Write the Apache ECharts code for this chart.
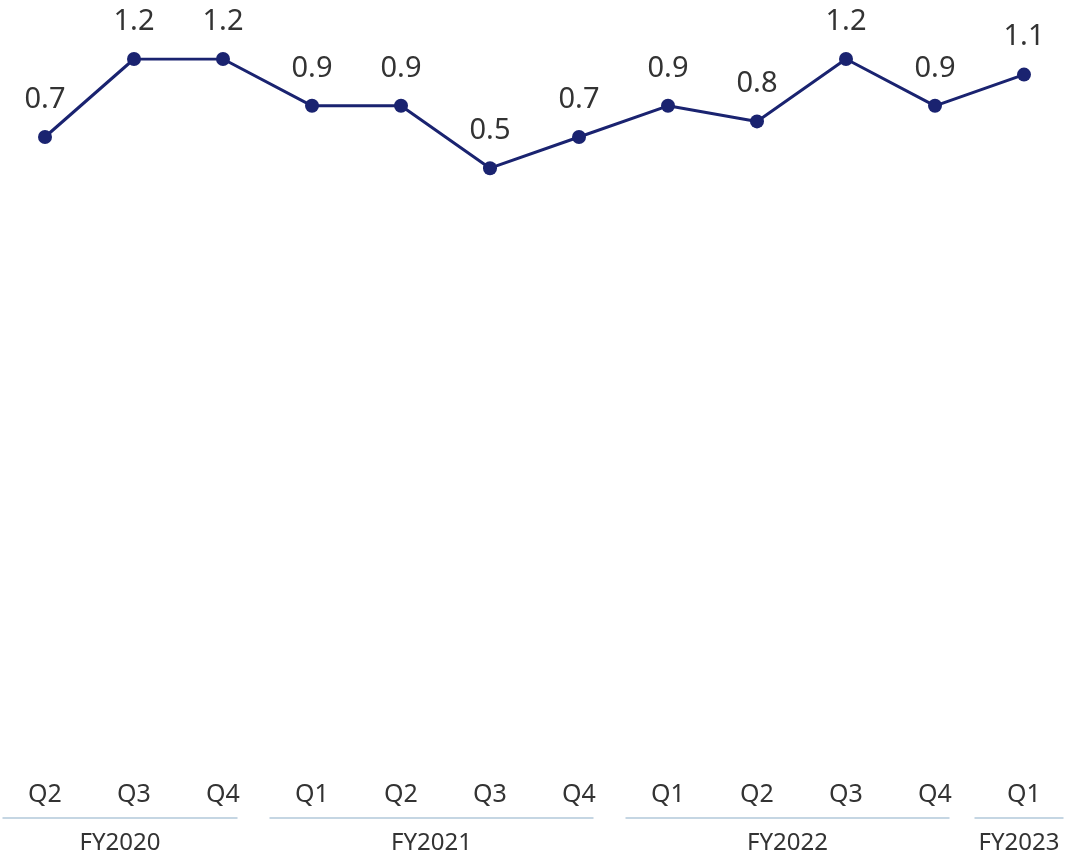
<!DOCTYPE html>
<html lang="en">
<head>
    <meta charset="UTF-8">
    <title>Quarterly chart</title>
    <style>
        body { margin: 0; padding: 0; background: #fff; }
        #chart { width: 1089px; height: 858px; }
    </style>
</head>
<body>
    <div id="chart"></div>
    <script src="https://cdn.jsdelivr.net/npm/echarts@6/dist/echarts.min.js"></script>
    <script>
        var quarters = ['Q2', 'Q3', 'Q4', 'Q1', 'Q2', 'Q3', 'Q4', 'Q1', 'Q2', 'Q3', 'Q4', 'Q1'];
        var values = [0.7, 1.2, 1.2, 0.9, 0.9, 0.5, 0.7, 0.9, 0.8, 1.2, 0.9, 1.1];
        var yearNames = ['FY2020', 'FY2021', 'FY2022', 'FY2023'];
        var yearStart = [0, 3, 7, 11];
        var yearEnd = [2, 6, 10, 11];

        var lineColor = '#1a2370';
        var font = '"Noto Sans", "Open Sans", sans-serif';

        var myChart = echarts.init(document.getElementById('chart'));

        var option = {
            animation: false,
            grid: { left: 0.5, right: 20.5, top: 59, bottom: 97, containLabel: false },
            xAxis: {
                type: 'category',
                data: quarters,
                boundaryGap: true,
                axisLine: { show: false },
                axisTick: { show: false },
                axisLabel: { color: '#333', fontSize: 25, fontFamily: font, margin: 21 }
            },
            yAxis: {
                type: 'value',
                min: -3.3,
                max: 1.2,
                show: false,
                splitLine: { show: false }
            },
            series: [{
                type: 'line',
                data: values,
                symbol: 'circle',
                symbolSize: 14,
                lineStyle: { color: lineColor, width: 3 },
                itemStyle: { color: lineColor },
                label: {
                    show: true,
                    position: 'top',
                    distance: 16,
                    color: '#333',
                    fontSize: 29,
                    fontFamily: font,
                    formatter: function (p) { return p.value.toFixed(1); }
                }
            }]
        };
        myChart.setOption(option);

        // year group brackets under the quarter labels
        var half = myChart.convertToPixel({ xAxisIndex: 0 }, 1) - myChart.convertToPixel({ xAxisIndex: 0 }, 0);
        half = half / 2;
        var graphics = [];
        for (var i = 0; i < yearNames.length; i++) {
            var x0 = myChart.convertToPixel({ xAxisIndex: 0 }, yearStart[i]) - half;
            var x1 = myChart.convertToPixel({ xAxisIndex: 0 }, yearEnd[i]) + half;
            if (yearStart[i] === yearEnd[i]) {
                x0 -= 5; x1 -= 5;
            } else {
                x0 += 2; x1 -= 30;
            }
            graphics.push({
                type: 'line',
                shape: { x1: x0, y1: 818, x2: x1, y2: 818 },
                style: { stroke: '#c5d6e3', lineWidth: 2 }
            });
            graphics.push({
                type: 'text',
                x: (x0 + x1) / 2,
                y: 843,
                style: {
                    text: yearNames[i],
                    fill: '#333',
                    font: '24px ' + font,
                    textAlign: 'center',
                    textVerticalAlign: 'middle'
                }
            });
        }
        myChart.setOption({ graphic: graphics });
    </script>
</body>
</html>
